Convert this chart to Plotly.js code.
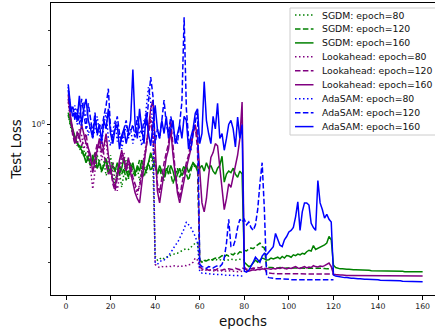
<!DOCTYPE html>
<html><head><meta charset="utf-8">
<script src="https://cdn.plot.ly/plotly-3.0.1.min.js"></script>
<style>html,body{margin:0;padding:0;background:#fff}#chart{width:435px;height:335px}</style>
</head><body><div id="chart"></div>
<script>
// ---- data (test loss per epoch, epochs start at 1) ----
const seriesNames = ["SGDM: epoch=80","SGDM: epoch=120","SGDM: epoch=160",
  "Lookahead: epoch=80","Lookahead: epoch=120","Lookahead: epoch=160",
  "AdaSAM: epoch=80","AdaSAM: epoch=120","AdaSAM: epoch=160"];

const sgdm80 = [1.12,0.98,0.90,0.86,0.80,0.76,0.72,0.74,0.66,0.70,0.63,0.68,0.60,0.70,0.62,0.57,0.65,0.55,0.60,0.70,
  0.55,0.50,0.60,0.57,0.48,0.58,0.66,0.53,0.57,0.62,0.54,0.60,0.52,0.57,0.63,0.56,0.62,0.70,0.62,
  0.215,0.205,0.210,0.206,0.210,0.213,0.212,0.217,0.218,0.222,0.222,0.226,0.228,0.232,0.234,0.232,0.238,0.244,0.250,0.250,
  0.205,0.200,0.205,0.203,0.206,0.204,0.205,0.207,0.205,0.206,0.204,0.205,0.206,0.205,0.207,0.206,0.205,0.206,0.207,0.206,0.206];

const sgdm120 = [1.15,1.00,0.92,0.84,0.82,0.75,0.78,0.68,0.72,0.65,0.62,0.70,0.64,0.60,0.66,0.58,0.62,0.68,0.56,0.60,
  0.64,0.58,0.54,0.62,0.56,0.60,0.52,0.58,0.64,0.57,0.55,0.60,0.66,0.58,0.54,0.60,0.64,0.58,0.62,
  0.66,0.56,0.60,0.54,0.52,0.58,0.62,0.56,0.50,0.55,0.60,0.54,0.58,0.62,0.56,0.52,0.58,0.64,0.60,0.62,
  0.205,0.200,0.204,0.203,0.206,0.205,0.207,0.210,0.208,0.212,0.216,0.212,0.218,0.215,0.220,0.218,0.223,0.220,0.226,0.224,
  0.230,0.228,0.234,0.236,0.234,0.240,0.246,0.250,0.240,0.236,
  0.190,0.188,0.188,0.187,0.187,0.187,0.188,0.187,0.186,0.187,0.187,0.186,0.187,0.186,0.186,0.187,0.186,0.186,0.187,0.186,
  0.186,0.186,0.186,0.187,0.186,0.186,0.186,0.185,0.186,0.186,0.186];

const sgdm160 = [1.10,1.05,0.95,0.88,0.80,0.78,0.74,0.70,0.64,0.68,0.62,0.66,0.72,0.60,0.64,0.58,0.62,0.66,0.60,0.57,
  0.62,0.58,0.64,0.56,0.60,0.68,0.58,0.54,0.60,0.64,0.56,0.62,0.58,0.66,0.60,0.58,0.64,0.72,0.66,
  0.60,0.56,0.62,0.58,0.54,0.60,0.56,0.62,0.58,0.52,0.56,0.60,0.55,0.58,0.62,0.57,0.60,0.64,0.62,0.58,
  0.60,0.62,0.58,0.64,0.60,0.62,0.58,0.56,0.60,0.62,0.69,0.51,0.56,0.58,0.57,0.60,0.56,0.54,0.58,0.56,
  0.200,0.195,0.190,0.192,0.198,0.205,0.200,0.205,0.210,0.208,0.205,0.206,0.210,0.208,0.210,0.212,0.208,0.214,0.210,0.216,
  0.215,0.212,0.218,0.216,0.220,0.218,0.222,0.220,0.226,0.230,0.228,0.243,0.232,0.235,0.238,0.240,0.245,0.250,0.270,0.260,
  0.193,0.188,0.186,0.185,0.185,0.184,0.184,0.184,0.183,0.183,0.183,0.183,0.182,0.182,0.182,0.182,0.182,0.181,0.181,0.181,
  0.181,0.181,0.181,0.180,0.180,0.180,0.180,0.180,0.180,0.180,0.180,0.180,0.179,0.179,0.179,0.179,0.179,0.179,0.179,0.179,0.179];

const look80 = [1.30,1.05,0.92,0.85,0.78,0.95,0.88,0.75,0.82,0.70,0.60,0.47,0.58,0.72,0.80,0.66,0.74,0.86,0.62,0.55,
  0.64,0.52,0.46,0.56,0.66,0.72,0.58,0.64,0.56,0.52,0.48,0.44,0.50,0.58,0.70,0.82,0.95,1.10,0.90,
  0.195,0.190,0.188,0.190,0.189,0.190,0.191,0.190,0.192,0.191,0.190,0.192,0.191,0.193,0.192,0.194,0.195,0.200,0.210,0.205,
  0.185,0.182,0.183,0.182,0.181,0.182,0.181,0.180,0.181,0.180,0.181,0.180,0.180,0.181,0.180,0.180,0.180,0.179,0.180,0.180,0.179];

const look120 = [1.35,1.10,0.88,0.80,0.92,0.86,0.78,0.84,0.90,0.74,0.66,0.62,0.70,0.80,0.76,0.85,0.70,0.62,0.56,0.60,
  0.50,0.46,0.54,0.62,0.70,0.64,0.58,0.66,0.62,0.54,0.50,0.46,0.48,0.56,0.66,0.78,0.88,1.05,0.85,
  0.62,0.50,0.45,0.55,0.64,0.72,0.80,1.05,0.75,0.58,0.48,0.42,0.50,0.58,0.64,0.70,0.80,0.92,0.98,0.75,
  0.190,0.185,0.183,0.184,0.182,0.183,0.184,0.182,0.185,0.183,0.182,0.184,0.183,0.185,0.184,0.183,0.186,0.184,0.183,0.187,
  0.185,0.184,0.186,0.185,0.187,0.186,0.188,0.187,0.190,0.188,
  0.177,0.176,0.176,0.175,0.175,0.175,0.175,0.175,0.175,0.175,0.175,0.175,0.174,0.175,0.174,0.174,0.175,0.174,0.174,0.174,
  0.174,0.174,0.174,0.174,0.174,0.174,0.174,0.174,0.174,0.174,0.174];

const look160 = [1.42,1.10,0.95,0.80,0.90,0.85,1.00,0.88,0.80,0.76,0.70,0.57,0.65,0.75,0.85,0.72,0.78,0.90,0.70,0.60,
  0.52,0.48,0.58,0.66,0.74,0.65,0.60,0.68,0.57,0.50,0.45,0.42,0.40,0.50,0.62,0.74,0.90,1.20,1.33,
  0.80,0.46,0.40,0.48,0.60,0.68,0.75,0.95,0.70,0.55,0.45,0.40,0.45,0.52,0.60,0.66,0.75,0.90,1.00,0.85,
  0.55,0.40,0.36,0.42,0.55,0.68,0.72,0.80,0.78,0.60,0.45,0.37,0.42,0.50,0.48,0.55,0.62,0.70,0.85,1.30,
  0.190,0.182,0.180,0.181,0.183,0.182,0.184,0.183,0.185,0.184,0.186,0.185,0.184,0.186,0.185,0.187,0.186,0.188,0.186,0.185,
  0.187,0.186,0.188,0.190,0.187,0.186,0.188,0.190,0.187,0.189,0.188,0.192,0.190,0.189,0.191,0.190,0.192,0.195,0.198,0.190,
  0.174,0.173,0.172,0.172,0.172,0.171,0.171,0.171,0.171,0.171,0.171,0.171,0.171,0.171,0.171,0.171,0.171,0.170,0.171,0.171,
  0.171,0.170,0.171,0.171,0.170,0.171,0.170,0.171,0.171,0.170,0.170,0.171,0.170,0.170,0.171,0.170,0.170,0.170,0.170,0.170,0.170];

const ada80 = [1.55,1.20,1.10,1.25,1.00,1.15,0.95,1.30,1.05,0.88,1.00,0.85,0.95,1.10,0.90,0.80,1.00,1.15,0.85,0.78,
  0.92,1.05,0.82,0.90,0.75,0.88,1.00,0.85,0.95,0.80,0.90,1.05,0.88,0.78,0.95,1.20,1.55,1.30,1.00,
  0.200,0.195,0.200,0.205,0.205,0.210,0.215,0.225,0.232,0.245,0.250,0.265,0.280,0.295,0.320,0.310,0.300,0.285,0.270,0.250,
  0.178,0.176,0.176,0.175,0.175,0.174,0.174,0.174,0.173,0.173,0.173,0.172,0.172,0.172,0.171,0.171,0.171,0.171,0.170,0.170,0.170];

const ada120 = [1.50,1.15,1.25,1.05,1.20,1.00,1.35,1.10,0.95,1.28,1.05,0.90,1.15,0.88,1.00,0.95,1.10,1.25,1.52,0.95,
  0.85,0.98,1.10,0.90,0.82,0.95,1.05,0.88,0.92,1.00,0.86,1.10,0.95,0.90,1.05,0.98,1.30,1.74,1.40,
  0.80,0.95,0.85,1.05,1.33,1.00,0.90,1.10,0.95,0.85,0.80,1.00,1.30,3.50,1.20,0.85,0.74,0.90,1.05,1.18,
  0.195,0.190,0.188,0.186,0.190,0.188,0.187,0.190,0.192,0.190,0.195,0.210,0.250,0.330,0.240,0.240,0.260,0.300,0.330,0.320,
  0.330,0.310,0.320,0.300,0.290,0.310,0.370,0.500,0.640,0.370,
  0.170,0.167,0.166,0.166,0.165,0.165,0.165,0.164,0.164,0.164,0.164,0.163,0.163,0.163,0.163,0.163,0.163,0.163,0.163,0.163,
  0.163,0.163,0.163,0.163,0.163,0.163,0.163,0.163,0.163,0.163,0.163];

const ada160 = [1.60,1.25,1.10,1.15,1.05,1.40,1.00,1.20,1.35,1.05,0.95,0.85,1.10,0.90,1.00,0.82,1.05,0.95,1.20,0.90,
  0.80,0.95,1.00,0.75,0.88,0.95,0.80,0.92,1.05,1.90,1.00,0.85,1.20,0.95,0.80,1.15,0.90,0.78,1.00,
  1.25,0.95,0.85,1.05,0.90,1.10,0.85,0.95,1.05,0.80,0.90,1.00,0.85,1.10,1.05,0.75,0.86,0.95,1.14,1.20,
  0.80,0.90,1.65,1.05,0.90,0.80,1.10,0.95,1.28,0.85,0.90,0.74,0.85,1.00,1.05,0.95,0.77,1.09,0.85,1.00,
  0.180,0.178,0.182,0.190,0.200,0.212,0.205,0.200,0.215,0.222,0.218,0.225,0.230,0.240,0.280,0.260,0.244,0.240,0.260,0.270,
  0.285,0.290,0.300,0.340,0.405,0.290,0.360,0.400,0.400,0.390,0.315,0.300,0.290,0.520,0.400,0.370,0.335,0.350,0.330,0.320,
  0.172,0.170,0.169,0.168,0.168,0.167,0.167,0.166,0.166,0.166,0.165,0.165,0.165,0.164,0.164,0.164,0.164,0.163,0.163,0.163,
  0.163,0.162,0.162,0.162,0.162,0.162,0.161,0.161,0.161,0.161,0.161,0.160,0.160,0.160,0.160,0.160,0.159,0.159,0.159,0.159,0.159];

const seriesValues = [sgdm80, sgdm120, sgdm160, look80, look120, look160, ada80, ada120, ada160];
const xTickVals = [0,20,40,60,80,100,120,140,160];
const yTickVals = [1];
const yTickText = ["10<sup>0</sup>"];
const yMinorVals = [0.2,0.3,0.4,0.5,0.6,0.7,0.8,0.9,2,3];

// ---- styles ----
const colors = ["green","green","green","purple","purple","purple","blue","blue","blue"];
const DOT = "1.5px,2.5px", DASH = "5.5px,2.4px";
const dashes = [DOT, DASH, "solid", DOT, DASH, "solid", DOT, DASH, "solid"];
const LW = 1.5;

const traces = seriesValues.map((vals, i) => ({
  type: "scatter", mode: "lines", name: seriesNames[i],
  x: vals.map((_, j) => j + 1), y: vals,
  line: {color: colors[i], width: LW, dash: dashes[i]},
  showlegend: false, hoverinfo: "skip"
}));

// plot area geometry (pixels) for converting legend positions into paper coords
const W = 435, H = 335, ML = 51, MR = 0, MT = 3, MB = 40;
const PW = W - ML - MR, PH = H - MT - MB;
const px = v => (v - ML) / PW;
const py = v => (H - MB - v) / PH;

const shapes = [{
  type: "rect", xref: "paper", yref: "paper",
  x0: px(290), x1: px(440), y0: py(135), y1: py(8),
  line: {color: "#cccccc", width: 1}, fillcolor: "rgba(255,255,255,0.8)", layer: "above"
}];
const annotations = [];
seriesNames.forEach((name, i) => {
  const yy = 15 + i * 13.95;
  shapes.push({type: "line", xref: "paper", yref: "paper",
    x0: px(295), x1: px(313.5), y0: py(yy), y1: py(yy),
    line: {color: colors[i], width: LW, dash: dashes[i]}, layer: "above"});
  annotations.push({xref: "paper", yref: "paper", x: px(319.5), y: py(yy),
    xanchor: "left", yanchor: "middle", text: name, showarrow: false,
    font: {family: "DejaVu Sans", size: 9.3, color: "#111"}});
});

const layout = {
  width: W, height: H,
  margin: {l: ML, r: MR, t: MT, b: MB, pad: 0},
  paper_bgcolor: "#fff", plot_bgcolor: "#fff",
  font: {family: "DejaVu Sans", color: "#111"},
  showlegend: false,
  xaxis: {
    range: [-6.73, 165.55], tickvals: xTickVals, ticks: "outside", ticklen: 3.5, tickwidth: 1,
    tickcolor: "#000", showline: true, linecolor: "#000", linewidth: 1, mirror: true,
    showgrid: false, zeroline: false, tickfont: {size: 7.8, color: "#222"},
    title: {text: "epochs", font: {size: 13.4, color: "#111"}, standoff: 6}
  },
  yaxis: {
    type: "log", range: [-0.8655, 0.6168], tickvals: yTickVals, ticktext: yTickText,
    ticks: "outside", ticklen: 3.5, tickwidth: 1, tickcolor: "#000",
    showline: true, linecolor: "#000", linewidth: 1, showgrid: false, zeroline: false,
    tickfont: {size: 7.8, color: "#222"},
    minor: {tickvals: yMinorVals, ticks: "outside", ticklen: 2, tickwidth: 0.8, tickcolor: "#000", showgrid: false},
    title: {text: "Test Loss", font: {size: 13.3, color: "#111"}, standoff: 6}
  },
  shapes: shapes, annotations: annotations
};

Plotly.newPlot("chart", traces, layout, {staticPlot: true, displayModeBar: false});
</script>
</body></html>
